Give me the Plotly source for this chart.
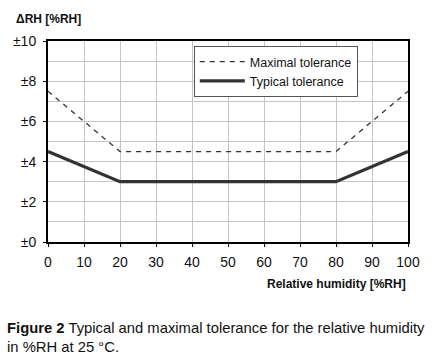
import plotly.graph_objects as go

rh = [0, 20, 80, 100]
maximal = [7.5, 4.5, 4.5, 7.5]
typical = [4.5, 3.0, 3.0, 4.5]
y_ticks = [0, 2, 4, 6, 8, 10]
y_labels = ["±0", "±2", "±4", "±6", "±8", "±10"]
x_ticks = list(range(0, 101, 10))

FONT = "Liberation Sans, Arial"

fig = go.Figure()
fig.add_trace(go.Scatter(x=rh, y=maximal, mode="lines", name="Maximal tolerance",
                         line=dict(color="#333333", width=1.3, dash="5px,5px")))
fig.add_trace(go.Scatter(x=rh, y=typical, mode="lines", name="Typical tolerance",
                         line=dict(color="#333333", width=3.2)))

fig.update_layout(
    width=441, height=362,
    margin=dict(l=48, r=33, t=41, b=120),
    paper_bgcolor="white", plot_bgcolor="white",
    font=dict(family=FONT, size=13, color="#111111"),
    showlegend=True,
    legend=dict(x=0.405, y=0.975, xanchor="left", yanchor="top",
                bordercolor="#555555", borderwidth=1, bgcolor="white",
                font=dict(family=FONT, size=12.5),
                itemwidth=45),
    xaxis=dict(range=[0, 100], tickvals=x_ticks, showgrid=True, automargin=False,
               gridcolor="#c4c4c4", gridwidth=1, zeroline=False,
               showline=True, linecolor="black", linewidth=2, mirror=True,
               ticks="outside", ticklen=3, tickcolor="black", ticklabelstandoff=3,
               tickfont=dict(size=14, family=FONT)),
    yaxis=dict(range=[0, 10], tickvals=y_ticks, ticktext=y_labels, showgrid=True, automargin=False,
               gridcolor="#c4c4c4", gridwidth=1, zeroline=False,
               showline=True, linecolor="black", linewidth=2, mirror=True,
               ticks="outside", ticklen=3, tickcolor="black", ticklabelstandoff=4,
               minor=dict(dtick=1, showgrid=True, gridcolor="#c4c4c4", gridwidth=1),
               tickfont=dict(size=14, family=FONT)),
)

fig.add_annotation(text="<b>ΔRH [%RH]</b>", xref="paper", yref="paper",
                   x=-0.095, y=1.065, xanchor="left", yanchor="bottom",
                   showarrow=False, font=dict(size=12, family=FONT))
fig.add_annotation(text="<b>Relative humidity [%RH]</b>", xref="paper", yref="paper",
                   x=1.0, y=-0.165, xanchor="right", yanchor="top",
                   showarrow=False, font=dict(size=12, family=FONT))
fig.add_annotation(text="<b>Figure 2</b> Typical and maximal tolerance for the relative humidity<br>in %RH at 25 °C.",
                   xref="paper", yref="paper", x=-0.12, y=-0.38, xanchor="left", yanchor="top",
                   align="left", showarrow=False, font=dict(size=14.8, family=FONT))

fig.write_html("out.html", config={"displayModeBar": False},
               post_script="document.body.style.margin='0';")
